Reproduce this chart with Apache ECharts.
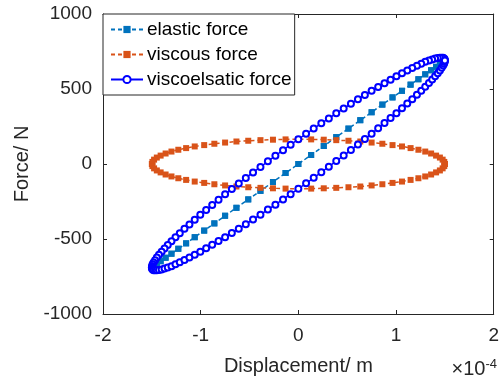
<!DOCTYPE html>
<html>
<head>
<meta charset="utf-8">
<script src="https://cdn.jsdelivr.net/npm/echarts@6/dist/echarts.min.js"></script>
<style>
html, body { margin: 0; padding: 0; background: #fff; }
#main { width: 502px; height: 385px; }
</style>
</head>
<body>
<div id="main"></div>
<script>
// displacement in units of 1e-4 m, samples used by the elastic and viscous curves
var displacement = [1.500, 1.494, 1.477, 1.449, 1.410, 1.359, 1.299, 1.229, 1.149, 1.061, 0.964, 0.860, 0.750, 0.634, 0.513, 0.388, 0.260, 0.131, 0,
	-0.131, -0.260, -0.388, -0.513, -0.634, -0.750, -0.860, -0.964, -1.061, -1.149, -1.229, -1.299, -1.359, -1.410, -1.449, -1.477, -1.494, -1.500,
	-1.494, -1.477, -1.449, -1.410, -1.359, -1.299, -1.229, -1.149, -1.061, -0.964, -0.860, -0.750, -0.634, -0.513, -0.388, -0.260, -0.131, 0,
	0.131, 0.260, 0.388, 0.513, 0.634, 0.750, 0.860, 0.964, 1.061, 1.149, 1.229, 1.299, 1.359, 1.410, 1.449, 1.477, 1.494, 1.500];

var elasticForce = [690, 687, 680, 666, 648, 625, 598, 565, 529, 488, 444, 396, 345, 292, 236, 179, 120, 60, 0,
	-60, -120, -179, -236, -292, -345, -396, -444, -488, -529, -565, -598, -625, -648, -666, -680, -687, -690,
	-687, -680, -666, -648, -625, -598, -565, -529, -488, -444, -396, -345, -292, -236, -179, -120, -60, 0,
	60, 120, 179, 236, 292, 345, 396, 444, 488, 529, 565, 598, 625, 648, 666, 680, 687, 690];

var viscousForce = [0, 14, 29, 43, 56, 70, 83, 95, 106, 117, 126, 135, 143, 150, 155, 159, 162, 164, 165,
	164, 162, 159, 155, 150, 143, 135, 126, 117, 106, 95, 83, 70, 56, 43, 29, 14, 0,
	-14, -29, -43, -56, -70, -83, -95, -106, -117, -126, -135, -143, -150, -155, -159, -162, -164, -165,
	-164, -162, -159, -155, -150, -143, -135, -126, -117, -106, -95, -83, -70, -56, -43, -29, -14, 0];

// the viscoelastic loop is sampled more densely
var displacementFine = [1.500, 1.498, 1.492, 1.482, 1.467, 1.449, 1.427, 1.400, 1.370, 1.337, 1.299, 1.258, 1.214, 1.166, 1.115, 1.061,
	1.004, 0.944, 0.882, 0.817, 0.750, 0.681, 0.610, 0.538, 0.464, 0.388, 0.312, 0.235, 0.157, 0.079, 0,
	-0.079, -0.157, -0.235, -0.312, -0.388, -0.464, -0.538, -0.610, -0.681, -0.750, -0.817, -0.882, -0.944, -1.004, -1.061,
	-1.115, -1.166, -1.214, -1.258, -1.299, -1.337, -1.370, -1.400, -1.427, -1.449, -1.467, -1.482, -1.492, -1.498, -1.500,
	-1.498, -1.492, -1.482, -1.467, -1.449, -1.427, -1.400, -1.370, -1.337, -1.299, -1.258, -1.214, -1.166, -1.115, -1.061,
	-1.004, -0.944, -0.882, -0.817, -0.750, -0.681, -0.610, -0.538, -0.464, -0.388, -0.312, -0.235, -0.157, -0.079, 0,
	0.079, 0.157, 0.235, 0.312, 0.388, 0.464, 0.538, 0.610, 0.681, 0.750, 0.817, 0.882, 0.944, 1.004, 1.061,
	1.115, 1.166, 1.214, 1.258, 1.299, 1.337, 1.370, 1.400, 1.427, 1.449, 1.467, 1.482, 1.492, 1.498, 1.500];

var viscoelasticForce = [690, 698, 703, 708, 709, 709, 707, 703, 697, 690, 681, 669, 655, 640, 623, 605,
	585, 562, 539, 514, 488, 460, 432, 401, 370, 338, 304, 271, 236, 201, 165,
	129, 92, 55, 18, -20, -56, -93, -130, -166, -202, -238, -273, -306, -339, -371,
	-403, -432, -461, -489, -515, -540, -563, -585, -605, -623, -641, -656, -669, -680, -690,
	-698, -703, -708, -709, -709, -707, -703, -697, -690, -681, -669, -655, -640, -623, -605,
	-585, -562, -539, -514, -488, -460, -432, -401, -370, -338, -304, -271, -236, -201, -165,
	-129, -92, -55, -18, 20, 56, 93, 130, 166, 202, 238, 273, 306, 339, 371,
	403, 432, 461, 489, 515, 540, 563, 585, 605, 623, 641, 656, 669, 680, 690];

var seriesNames = ['elastic force', 'viscous force', 'viscoelsatic force'];

function pairs(xs, ys) {
	return xs.map(function(x, i) { return [x, ys[i]]; });
}

var myChart = echarts.init(document.getElementById('main'));
var textColor = '#262626';
var font = 'Liberation Sans, Arial, sans-serif';

var hiddenAxis = {
	axisLine: { show: true, onZero: false, lineStyle: { color: textColor, width: 1 } },
	axisTick: { show: true, inside: true, length: 4, lineStyle: { color: textColor } },
	axisLabel: { show: false },
	splitLine: { show: false }
};

var option = {
	animation: false,
	backgroundColor: '#fff',
	grid: { left: 103, right: 5, top: 14, bottom: 71 },
	legend: {
		orient: 'vertical',
		left: 103,
		top: 14,
		padding: [6, 3, 6, 7],
		itemGap: 6,
		itemWidth: 32,
		itemHeight: 9,
		backgroundColor: '#fff',
		borderColor: textColor,
		borderWidth: 1,
		textStyle: { fontSize: 19, color: '#000', fontFamily: font, padding: [0, 0, 0, -1] },
		data: seriesNames
	},
	xAxis: [{
		type: 'value',
		min: -2, max: 2, interval: 1,
		name: 'Displacement/ m',
		nameLocation: 'middle',
		nameGap: 42,
		nameTextStyle: { fontSize: 20, color: textColor, fontFamily: font },
		axisLine: { show: true, onZero: false, lineStyle: { color: textColor, width: 1 } },
		axisTick: { show: true, inside: true, length: 4, lineStyle: { color: textColor } },
		axisLabel: { fontSize: 19, color: textColor, fontFamily: font, margin: 12 },
		splitLine: { show: false }
	}, Object.assign({ type: 'value', position: 'top', min: -2, max: 2, interval: 1 }, hiddenAxis)],
	yAxis: [{
		type: 'value',
		min: -1000, max: 1000, interval: 500,
		name: 'Force/ N',
		nameLocation: 'middle',
		nameGap: 65,
		nameTextStyle: { fontSize: 20, color: textColor, fontFamily: font },
		axisLine: { show: true, onZero: false, lineStyle: { color: textColor, width: 1 } },
		axisTick: { show: true, inside: true, length: 4, lineStyle: { color: textColor } },
		axisLabel: {
			fontSize: 19, color: textColor, fontFamily: font, margin: 11,
			formatter: function(v) { return String(v); }
		},
		splitLine: { show: false }
	}, Object.assign({ type: 'value', position: 'right', min: -1000, max: 1000, interval: 500 }, hiddenAxis)],
	graphic: [{
		type: 'text',
		right: 5,
		top: 358,
		style: {
			text: '{a|×10}{b|-4}',
			rich: {
				a: { fontSize: 20, fill: textColor, fontFamily: font },
				b: { fontSize: 13, fill: textColor, fontFamily: font, verticalAlign: 'top', padding: [0, 0, 10, 0] }
			}
		}
	}],
	series: [{
		name: seriesNames[0],
		type: 'line',
		data: pairs(displacement, elasticForce),
		color: '#0072BD',
		symbol: 'rect',
		symbolSize: 6,
		showAllSymbol: true,
		lineStyle: { width: 1.5, type: [4, 3] },
		itemStyle: { color: '#0072BD' }
	}, {
		name: seriesNames[1],
		type: 'line',
		data: pairs(displacement, viscousForce),
		color: '#D95319',
		symbol: 'rect',
		symbolSize: 6,
		showAllSymbol: true,
		lineStyle: { width: 1.5, type: [4, 3] },
		itemStyle: { color: '#D95319' }
	}, {
		name: seriesNames[2],
		type: 'line',
		data: pairs(displacementFine, viscoelasticForce),
		color: '#0000FF',
		symbol: 'emptyCircle',
		symbolSize: 6,
		showAllSymbol: true,
		lineStyle: { width: 1.5 },
		itemStyle: { color: '#0000FF', borderWidth: 1.5 }
	}]
};

myChart.setOption(option);
</script>
</body>
</html>
